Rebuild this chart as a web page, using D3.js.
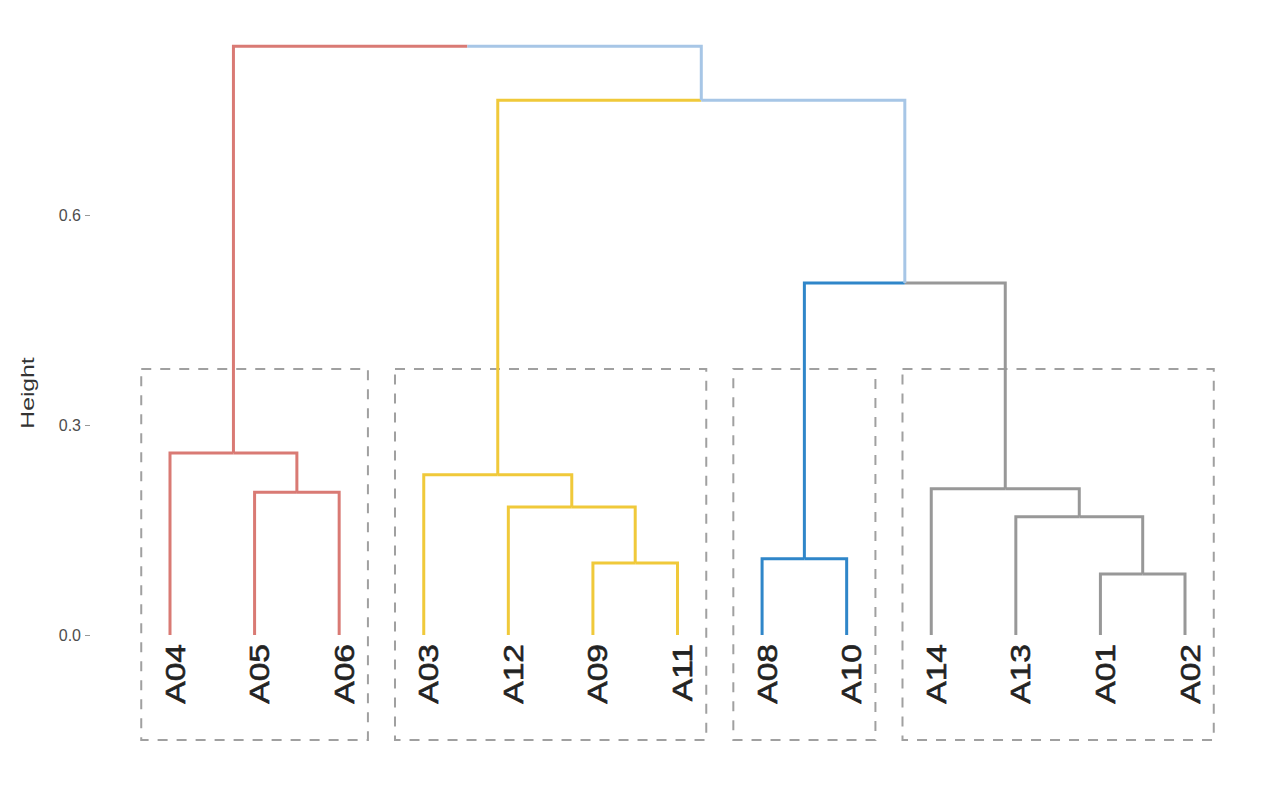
<!DOCTYPE html>
<html lang="en">
  <head>
    <meta charset="UTF-8" />
    <title>Cluster Dendrogram</title>
    <style>
      body {
        margin: 0;
        background-color: #fff;
      }
      .leaf {
        font-family: "Liberation Sans", Arial, sans-serif;
        font-size: 28px;
        fill: #222;
        stroke: #222;
        stroke-width: 0.6px;
      }
      .tick text {
        font-family: "Liberation Sans", Arial, sans-serif;
        font-size: 16px;
        fill: #4d4d4d;
      }
      .tick line {
        stroke: #999;
      }
    </style>
  </head>
  <body>
    <div class="container"></div>

    <script src="https://d3js.org/d3.v7.min.js"></script>
    <script>
      // leaves in plotted order, with the cluster (k = 4) each one falls in
      const leafLabels = ["A04", "A05", "A06", "A03", "A12", "A09", "A11", "A08", "A10", "A14", "A13", "A01", "A02"];
      const leafCluster = [0, 0, 0, 1, 1, 1, 1, 2, 2, 3, 3, 3, 3];

      // merges like hclust: [left, right, height], "mN" = N-th merge
      const merges = [
        ["A01", "A02", 0.087],
        ["A09", "A11", 0.103],
        ["A08", "A10", 0.109],
        ["A13", "m1", 0.169],
        ["A12", "m2", 0.183],
        ["A05", "A06", 0.204],
        ["A14", "m4", 0.209],
        ["A03", "m5", 0.229],
        ["A04", "m6", 0.26],
        ["m3", "m7", 0.503],
        ["m8", "m10", 0.764],
        ["m9", "m11", 0.841]
      ];

      const yTicks = [0.0, 0.3, 0.6];
      const rectTop = 0.38,
        rectBottom = -0.15;

      const clusterColors = ["#d97a74", "#f0c93a", "#2f86c9", "#989898"];
      const upperColor = "#a7c6e6";

      const w = 1280,
        h = 790;

      const xScale = d3.scaleLinear().domain([0, leafLabels.length - 1]).range([170, 1185]);
      const yScale = d3.scaleLinear().domain([0, 0.6]).range([635, 215]);

      const svg = d3.select(".container").append("svg").attr("width", w).attr("height", h);

      // build nodes
      const nodes = {};
      leafLabels.forEach((name, i) => {
        nodes[name] = { name, x: i, height: 0, clusters: [leafCluster[i]] };
      });
      merges.forEach((m, i) => {
        const left = nodes[m[0]],
          right = nodes[m[1]];
        nodes["m" + (i + 1)] = {
          name: "m" + (i + 1),
          x: (left.x + right.x) / 2,
          height: m[2],
          children: [left, right],
          clusters: Array.from(new Set(left.clusters.concat(right.clusters)))
        };
      });

      const colorOf = (n) => (n.clusters.length === 1 ? clusterColors[n.clusters[0]] : upperColor);

      // dashed cluster boxes
      const groups = d3.groups(leafLabels.map((d, i) => [i, leafCluster[i]]), (d) => d[1]);
      svg
        .selectAll("rect.box")
        .data(groups)
        .enter()
        .append("rect")
        .attr("class", "box")
        .attr("x", (g) => xScale(d3.min(g[1], (d) => d[0]) - 0.34))
        .attr("y", yScale(rectTop))
        .attr("width", (g) => xScale(d3.max(g[1], (d) => d[0]) + 0.34) - xScale(d3.min(g[1], (d) => d[0]) - 0.34))
        .attr("height", yScale(rectBottom) - yScale(rectTop))
        .style("fill", "none")
        .style("stroke", "#a0a0a0")
        .style("stroke-width", 2)
        .style("stroke-dasharray", "10,9");

      // branches: parent -> child, coloured by child
      const links = [];
      Object.values(nodes).forEach((n) => {
        if (n.children) n.children.forEach((c) => links.push({ parent: n, child: c }));
      });

      svg
        .selectAll("path.branch")
        .data(links)
        .enter()
        .append("path")
        .attr("class", "branch")
        .attr(
          "d",
          (d) =>
            "M" + xScale(d.parent.x) + "," + yScale(d.parent.height) +
            "H" + xScale(d.child.x) +
            "V" + yScale(d.child.height)
        )
        .style("fill", "none")
        .style("stroke", (d) => colorOf(d.child))
        .style("stroke-width", 3);

      // leaf labels
      svg
        .selectAll("text.leaf")
        .data(leafLabels)
        .enter()
        .append("text")
        .attr("class", "leaf")
        .attr("transform", (d, i) => "translate(" + (xScale(i) + 5) + "," + 644 + ") rotate(-90) scale(1.2,1)")
        .attr("text-anchor", "end")
        .attr("dominant-baseline", "central")
        .text((d) => d);

      // y axis
      const yAxis = d3.axisLeft(yScale).tickValues(yTicks).tickFormat(d3.format(".1f")).tickSize(5).tickPadding(4);
      svg
        .append("g")
        .attr("transform", "translate(" + 90 + ",0)")
        .call(yAxis)
        .call((g) => g.select(".domain").remove());

      svg
        .append("text")
        .attr("transform", "translate(28,393) rotate(-90) scale(1.3,1)")
        .attr("text-anchor", "middle")
        .attr("dominant-baseline", "central")
        .style("font-family", "Liberation Sans, Arial, sans-serif")
        .style("font-size", "19px")
        .style("fill", "#333")
        .text("Height");
    </script>
  </body>
</html>
